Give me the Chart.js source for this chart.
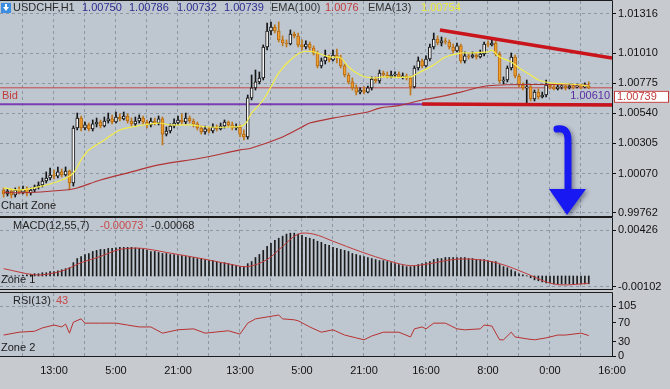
<!DOCTYPE html>
<html>
<head>
<meta charset="utf-8">
<script src="https://cdn.jsdelivr.net/npm/chart.js@4.4.0/dist/chart.umd.min.js"></script>
<style>
  html, body { margin: 0; padding: 0; }
  body { width: 670px; height: 389px; background: #c7cbd0; position: relative; overflow: hidden; }
  canvas { position: absolute; left: 0; }
  #main { top: 0; }
  #macd { top: 212px; }
  #rsi { top: 287px; }
</style>
</head>
<body>
<canvas id="main" width="670" height="222" style="width:670px;height:222px"></canvas>
<canvas id="macd" width="670" height="84" style="width:670px;height:84px"></canvas>
<canvas id="rsi" width="670" height="102" style="width:670px;height:102px"></canvas>
<script>
// USDCHF H1 candles, one per bar (index 0 = oldest)
const opens = [
  0.99941,0.99910,0.99933,0.99902,0.99941,0.99925,0.99949,0.99918,0.99941,0.99965,
  0.99980,1.00011,1.00035,1.00058,1.00050,1.00082,1.00058,1.00089,0.99996,1.00425,
  1.00503,1.00425,1.00449,1.00418,1.00457,1.00472,1.00441,1.00480,1.00496,1.00472,
  1.00511,1.00496,1.00519,1.00480,1.00457,1.00480,1.00503,1.00472,1.00449,1.00480,
  1.00464,1.00496,1.00378,1.00402,1.00441,1.00464,1.00488,1.00472,1.00503,1.00480,
  1.00457,1.00425,1.00394,1.00418,1.00402,1.00433,1.00418,1.00441,1.00472,1.00449,
  1.00425,1.00433,1.00378,1.00355,1.00660,1.00738,1.00785,1.00816,1.01058,1.01183,
  1.01214,1.01183,1.01113,1.01089,1.01081,1.01159,1.01144,1.01074,1.01058,1.01081,
  1.01050,1.01011,1.00910,1.00949,1.00980,1.00956,1.00995,1.00972,1.00910,1.00839,
  1.00785,1.00738,1.00706,1.00722,1.00706,1.00738,1.00808,1.00792,1.00855,1.00839,
  1.00824,1.00839,1.00847,1.00824,1.00831,1.00816,1.00746,1.00894,1.00949,1.00910,
  1.00964,1.01058,1.01120,1.01089,1.01105,1.01097,1.01058,1.01027,1.01066,1.00949,
  1.00988,1.00980,1.00995,1.00980,1.01003,1.01081,1.01074,1.01089,1.01003,1.00792,
  1.00800,1.00894,1.00980,1.00831,1.00761,1.00738,1.00746,1.00652,1.00706,1.00667,
  1.00683,1.00761,1.00746,1.00730,1.00746,1.00753,1.00738,1.00753,1.00746,1.00753,
  1.00746,1.00750
];
const highs = [
  0.99957,0.99949,0.99949,0.99957,0.99965,0.99972,0.99965,0.99957,0.99980,1.00004,
  1.00035,1.00082,1.00113,1.00097,1.00121,1.00105,1.00121,1.00097,1.00441,1.00542,
  1.00519,1.00472,1.00464,1.00488,1.00503,1.00488,1.00511,1.00542,1.00527,1.00550,
  1.00535,1.00550,1.00535,1.00503,1.00511,1.00527,1.00519,1.00488,1.00503,1.00503,
  1.00519,1.00511,1.00433,1.00457,1.00496,1.00519,1.00535,1.00542,1.00519,1.00496,
  1.00472,1.00441,1.00441,1.00433,1.00457,1.00449,1.00464,1.00488,1.00480,1.00472,
  1.00457,1.00449,1.00410,1.00683,1.00839,1.00878,1.00863,1.01074,1.01245,1.01253,
  1.01230,1.01253,1.01144,1.01113,1.01191,1.01175,1.01167,1.01113,1.01105,1.01097,
  1.01066,1.01027,1.00972,1.01034,1.00995,1.01034,1.01042,1.00995,1.00925,1.00855,
  1.00816,1.00761,1.00738,1.00746,1.00753,1.00824,1.00824,1.00878,1.00870,1.00863,
  1.00870,1.00863,1.00863,1.00855,1.00847,1.00831,1.00910,1.00980,1.00964,1.00988,
  1.01081,1.01167,1.01144,1.01136,1.01128,1.01113,1.01081,1.01089,1.01081,1.01019,
  1.01003,1.01019,1.01011,1.01034,1.01097,1.01105,1.01113,1.01105,1.01019,1.00824,
  1.00910,1.01011,1.00995,1.00847,1.00777,1.00800,1.00761,1.00722,1.00730,1.00706,
  1.00800,1.00769,1.00761,1.00761,1.00769,1.00761,1.00769,1.00769,1.00769,1.00769,
  1.00777,1.00786
];
const lows = [
  0.99886,0.99894,0.99879,0.99886,0.99910,0.99910,0.99894,0.99902,0.99925,0.99949,
  0.99965,0.99996,1.00019,1.00027,1.00035,1.00043,1.00050,0.99941,0.99972,1.00410,
  1.00402,1.00410,1.00402,1.00402,1.00433,1.00425,1.00433,1.00464,1.00457,1.00464,
  1.00480,1.00488,1.00464,1.00441,1.00441,1.00464,1.00457,1.00425,1.00433,1.00449,
  1.00449,1.00293,1.00363,1.00386,1.00425,1.00449,1.00457,1.00457,1.00464,1.00433,
  1.00410,1.00378,1.00378,1.00386,1.00386,1.00402,1.00410,1.00425,1.00433,1.00410,
  1.00410,1.00355,1.00332,1.00339,1.00644,1.00722,1.00769,1.00800,1.01034,1.01152,
  1.01167,1.01097,1.01066,1.01058,1.01074,1.01128,1.01058,1.01034,1.01042,1.01034,
  1.00995,1.00894,1.00894,1.00925,1.00941,1.00949,1.00933,1.00894,1.00824,1.00769,
  1.00722,1.00683,1.00691,1.00691,1.00699,1.00722,1.00777,1.00777,1.00824,1.00816,
  1.00816,1.00824,1.00816,1.00808,1.00800,1.00683,1.00738,1.00878,1.00894,1.00902,
  1.00949,1.01042,1.01074,1.01066,1.01081,1.01042,1.01011,1.01019,1.00933,1.00933,
  1.00964,1.00972,1.00964,1.00972,1.00988,1.01058,1.01066,1.00988,1.00777,1.00769,
  1.00785,1.00878,1.00816,1.00746,1.00722,1.00621,1.00636,1.00636,1.00652,1.00660,
  1.00667,1.00730,1.00722,1.00722,1.00730,1.00722,1.00730,1.00730,1.00738,1.00730,
  1.00738,1.00732
];
const closes = [
  0.99910,0.99933,0.99902,0.99941,0.99925,0.99949,0.99918,0.99941,0.99965,0.99980,
  1.00011,1.00035,1.00058,1.00050,1.00082,1.00058,1.00089,0.99996,1.00425,1.00503,
  1.00425,1.00449,1.00418,1.00457,1.00472,1.00441,1.00480,1.00496,1.00472,1.00511,
  1.00496,1.00519,1.00480,1.00457,1.00480,1.00503,1.00472,1.00449,1.00480,1.00464,
  1.00496,1.00378,1.00402,1.00441,1.00464,1.00488,1.00472,1.00503,1.00480,1.00457,
  1.00425,1.00394,1.00418,1.00402,1.00433,1.00418,1.00441,1.00472,1.00449,1.00425,
  1.00433,1.00378,1.00355,1.00660,1.00738,1.00785,1.00816,1.01058,1.01183,1.01214,
  1.01183,1.01113,1.01089,1.01081,1.01159,1.01144,1.01074,1.01058,1.01081,1.01050,
  1.01011,1.00910,1.00949,1.00980,1.00956,1.00995,1.00972,1.00910,1.00839,1.00785,
  1.00738,1.00706,1.00722,1.00706,1.00738,1.00808,1.00792,1.00855,1.00839,1.00824,
  1.00839,1.00847,1.00824,1.00831,1.00816,1.00746,1.00894,1.00949,1.00910,1.00964,
  1.01058,1.01120,1.01089,1.01105,1.01097,1.01058,1.01027,1.01066,1.00949,1.00988,
  1.00980,1.00995,1.00980,1.01003,1.01081,1.01074,1.01089,1.01003,1.00792,1.00800,
  1.00894,1.00980,1.00831,1.00761,1.00738,1.00746,1.00652,1.00706,1.00667,1.00683,
  1.00761,1.00746,1.00730,1.00746,1.00753,1.00738,1.00753,1.00746,1.00753,1.00746,
  1.00750,1.00739
];

// moving averages, read at a few bars
const ema13Bars = [0,4,9,15,18,20,22,26,30,33,40,43,48,53,58,62,64,67,69,71,74,77,80,84,87,89,92,95,98,105,107,111,114,118,120,125,126,128,131,133,136,138,141,146,151];
const ema13Vals = [0.99957,0.99941,0.99965,1.00019,1.00074,1.00176,1.00254,1.00332,1.00410,1.00433,
  1.00464,1.00449,1.00449,1.00433,1.00433,1.00449,1.00542,1.00644,1.00746,1.00855,
  1.00956,1.01019,1.01019,1.00980,1.00972,1.00902,1.00839,1.00816,1.00824,1.00824,
  1.00855,1.00918,1.00980,1.01011,1.01011,1.01019,1.01034,1.00980,1.00941,1.00894,
  1.00839,1.00800,1.00777,1.00769,1.00754];
const ema100Bars = [0,4,16,19,25,33,40,51,61,64,72,77,79,85,94,97,102,108,111,118,125,141,151];
const ema100Vals = [0.99925,0.99918,0.99941,0.99957,1.00019,1.00082,1.00137,1.00191,1.00254,1.00269,
  1.00355,1.00433,1.00464,1.00503,1.00550,1.00581,1.00600,1.00644,1.00660,1.00706,
  1.00755,1.00765,1.00760];

// price levels and drawn trend lines (bar, price)
const bidPrice = 1.00739;
const levelPrice = 1.00610;
const trendTopBars = [112.6, 157];
const trendTopPrices = [1.01191, 1.00972];
const trendLowBars = [108, 157];
const trendLowPrices = [1.00613, 1.00605];

// MACD(12,55,7)
const macdVals = [
  0.00002,-0.00003,-0.00003,0.00002,0.00002,0.00007,0.00011,0.00016,0.00021,0.00021,
  0.00030,0.00030,0.00040,0.00040,0.00049,0.00058,0.00068,0.00077,0.00124,0.00162,
  0.00181,0.00200,0.00209,0.00228,0.00238,0.00247,0.00247,0.00256,0.00256,0.00261,
  0.00266,0.00266,0.00266,0.00266,0.00261,0.00256,0.00247,0.00238,0.00228,0.00228,
  0.00219,0.00209,0.00209,0.00200,0.00200,0.00190,0.00190,0.00181,0.00181,0.00172,
  0.00162,0.00162,0.00153,0.00143,0.00143,0.00134,0.00124,0.00124,0.00115,0.00106,
  0.00096,0.00087,0.00087,0.00115,0.00134,0.00172,0.00200,0.00238,0.00275,0.00304,
  0.00332,0.00351,0.00370,0.00389,0.00398,0.00398,0.00389,0.00379,0.00360,0.00351,
  0.00341,0.00323,0.00313,0.00294,0.00285,0.00266,0.00256,0.00247,0.00238,0.00228,
  0.00209,0.00200,0.00190,0.00181,0.00172,0.00162,0.00153,0.00143,0.00143,0.00134,
  0.00124,0.00115,0.00106,0.00096,0.00087,0.00087,0.00096,0.00106,0.00115,0.00124,
  0.00134,0.00153,0.00162,0.00162,0.00172,0.00172,0.00172,0.00172,0.00172,0.00172,
  0.00162,0.00162,0.00153,0.00153,0.00153,0.00143,0.00134,0.00134,0.00106,0.00087,
  0.00077,0.00058,0.00040,0.00021,0.00011,0.00002,-0.00017,-0.00036,-0.00045,-0.00055,
  -0.00064,-0.00064,-0.00074,-0.00074,-0.00074,-0.00074,-0.00074,-0.00074,-0.00074,-0.00074,
  -0.00073,-0.00073
];
const signalBars = [0,8,12,16,20,25,29,32,36,42,51,59,63,68,72,76,80,85,92,100,105,110,116,122,128,135,140,144,151];
const signalVals = [0.00068,0.00011,0.00021,0.00058,0.00124,0.00181,0.00238,0.00256,0.00256,0.00219,
  0.00162,0.00106,0.00087,0.00153,0.00275,0.00389,0.00389,0.00323,0.00228,0.00134,
  0.00096,0.00115,0.00153,0.00153,0.00115,0.00021,-0.00055,-0.00083,-0.00068];

// RSI(13)
const rsiBars = [0,4,8,10,13,15,16,17,18,20,21,25,29,32,35,38,41,45,49,52,58,61,63,65,68,71,72,75,76,79,82,85,88,91,93,95,98,102,105,106,108,109,111,114,117,119,123,124,126,128,129,131,132,135,137,140,143,145,149,151];
const rsiVals = [44,50,52,59,65,61,67,48,71,78,69,69,69,65,61,61,48,55,57,48,
  53,46,69,78,82,86,78,76,74,61,50,55,44,38,34,42,50,50,40,57,
  61,57,69,69,57,55,57,65,63,34,34,50,40,36,34,38,44,44,48,43];

// axes
const mainTicks = [1.01316, 1.01010, 1.00775, 1.00540, 1.00305, 1.00070, 0.99762];
const macdTicks = [0.00426, -0.00102];
const rsiTicks = [105, 70, 30, 0];
const gridBars = [5,13,21,29,37,45,53,61,69,77,85,93,101,109,117,125,133,141,149,157];
const timeLabels = ['13:00','5:00','21:00','13:00','5:00','21:00','16:00','8:00','0:00','16:00'];

const X_MIN = -0.93, X_MAX = 157;
const GRID = '#8d97a3';
const PANEL = '#bec6d0';
const FONT = '"Liberation Sans", Arial, sans-serif';

Chart.defaults.font.family = FONT;
Chart.defaults.font.size = 11;
Chart.defaults.color = '#111';
Chart.defaults.animation = false;
Chart.defaults.events = [];
Chart.defaults.plugins.legend.display = false;
Chart.defaults.plugins.tooltip.enabled = false;

const last = closes.length - 1;
const barIdx = closes.map((c, i) => i);
const isUp = barIdx.map(i => closes[i] >= opens[i]);
const pts = (xs, ys) => xs.map((x, k) => ({ x: x, y: ys[k] }));

function xAxis(showLabels) {
  return {
    type: 'linear', min: X_MIN, max: X_MAX, offset: false,
    afterBuildTicks: s => { s.ticks = gridBars.map(v => ({ value: v })); },
    afterFit: s => { s.height = showLabels ? 33 : 0; s.paddingLeft = 0; s.paddingRight = 0; },
    grid: { color: GRID, drawTicks: false, offset: false },
    border: { display: false, dash: [3, 3] },
    ticks: {
      display: showLabels, autoSkip: false, maxRotation: 0, padding: 8, color: '#111',
      callback: v => { const k = (v - 13) / 16; return Number.isInteger(k) && k >= 0 ? timeLabels[k] : ''; }
    }
  };
}

function yAxis(min, max, ticks, fmt, gridColor) {
  return {
    position: 'right', min: min, max: max,
    afterBuildTicks: s => { s.ticks = ticks.map(v => ({ value: v })); },
    afterFit: s => { s.width = 58; s.paddingTop = 0; s.paddingBottom = 0; },
    grid: { color: gridColor || GRID, tickColor: '#111', tickLength: 4, tickBorderDash: [] },
    border: { display: true, color: '#111', dash: [3, 3] },
    ticks: { padding: 2, color: '#111', autoSkip: false, callback: fmt }
  };
}

function text(ctx, s, x, y, color, align) {
  ctx.fillStyle = color;
  ctx.textAlign = align || 'left';
  ctx.textBaseline = 'middle';
  ctx.fillText(s, x, y);
}

function panelPlugin(drawExtra) {
  return {
    id: 'panel',
    beforeDraw(chart) {
      const { ctx, chartArea: a } = chart;
      ctx.save();
      ctx.fillStyle = PANEL;
      ctx.fillRect(a.left, a.top, a.right - a.left, a.bottom - a.top);
      ctx.restore();
    },
    afterDraw(chart) {
      const { ctx, chartArea: a } = chart;
      ctx.save();
      ctx.strokeStyle = '#1c1c1c';
      ctx.lineWidth = 1;
      ctx.beginPath();
      ctx.moveTo(0, a.top - 0.5);
      ctx.lineTo(a.right + 0.5, a.top - 0.5);
      ctx.lineTo(a.right + 0.5, a.bottom + 0.5);
      ctx.lineTo(0, a.bottom + 0.5);
      ctx.stroke();
      ctx.font = '11px ' + FONT;
      drawExtra(chart, ctx);
      ctx.restore();
    }
  };
}

// ---- main price chart
new Chart(document.getElementById('main'), {
  type: 'bar',
  data: {
    datasets: [
      { type: 'line', data: pts(trendTopBars, trendTopPrices), borderColor: '#c8141a', borderWidth: 3.5, pointRadius: 0, order: 0 },
      { type: 'line', data: pts(trendLowBars, trendLowPrices), borderColor: '#c8141a', borderWidth: 3.5, pointRadius: 0, order: 0 },
      { type: 'line', data: pts(ema13Bars, ema13Vals), borderColor: '#f4ee48', borderWidth: 1.2, pointRadius: 0, tension: 0.35, order: 1 },
      { type: 'line', data: pts(ema100Bars, ema100Vals), borderColor: '#b03434', borderWidth: 1.2, pointRadius: 0, tension: 0.35, order: 1 },
      {
        type: 'bar', data: barIdx.map(i => ({ x: i, y: [opens[i], closes[i]] })),
        backgroundColor: barIdx.map(i => isUp[i] ? '#f6f6f6' : '#f0a030'),
        borderColor: barIdx.map(i => isUp[i] ? '#151515' : '#b46a12'),
        borderWidth: 1, borderSkipped: false, barThickness: 3, minBarLength: 1, grouped: false, order: 2
      },
      {
        type: 'bar', data: barIdx.map(i => ({ x: i, y: [lows[i], highs[i]] })),
        backgroundColor: barIdx.map(i => isUp[i] ? '#151515' : '#c07818'),
        barThickness: 1, grouped: false, order: 3
      },
      { type: 'line', data: pts([X_MIN, X_MAX], [bidPrice, bidPrice]), borderColor: '#c44848', borderWidth: 1, pointRadius: 0, order: 4 },
      { type: 'line', data: pts([X_MIN, X_MAX], [levelPrice, levelPrice]), borderColor: '#7a3cb4', borderWidth: 2, pointRadius: 0, order: 4 }
    ]
  },
  options: {
    responsive: false,
    layout: { padding: { top: 1, bottom: 6, left: 0, right: 0 } },
    scales: {
      x: xAxis(false),
      y: yAxis(0.99738, 1.01417, mainTicks, v => v.toFixed(5))
    }
  },
  plugins: [panelPlugin((chart, ctx) => {
    const y = chart.scales.y;
    // symbol icon
    ctx.fillStyle = '#3b8ee2';
    ctx.fillRect(1, 3, 10, 10);
    ctx.fillStyle = '#ffffff';
    ctx.beginPath(); ctx.moveTo(3, 7); ctx.lineTo(9, 7); ctx.lineTo(6, 11); ctx.closePath(); ctx.fill();
    ctx.fillRect(5, 4, 2, 3);
    text(ctx, 'USDCHF,H1', 13, 8, '#2a2a2a');
    text(ctx, opens[last].toFixed(5), 82, 8, '#2c2c8e');
    text(ctx, highs[last].toFixed(5), 129, 8, '#2c2c8e');
    text(ctx, lows[last].toFixed(5), 177, 8, '#2c2c8e');
    text(ctx, closes[last].toFixed(5), 224, 8, '#2c2c8e');
    text(ctx, 'EMA(100)', 271, 8, '#333333');
    text(ctx, ema100Vals[ema100Vals.length - 1].toFixed(4), 325, 8, '#c23c3c');
    text(ctx, 'EMA(13)', 368, 8, '#333333');
    text(ctx, ema13Vals[ema13Vals.length - 1].toFixed(5), 421, 8, '#ecea3c');
    text(ctx, 'Chart Zone', 1, 206, '#1a1a1a');
    const by = y.getPixelForValue(bidPrice);
    text(ctx, 'Bid', 2, by + 8, '#c23c3c');
    text(ctx, levelPrice.toFixed(5), 610, y.getPixelForValue(levelPrice) - 8, '#5a2ca4', 'right');
    // bid price box on the axis
    ctx.fillStyle = '#ffffff';
    ctx.fillRect(614, by + 3, 55, 12);
    ctx.strokeStyle = '#c23c3c';
    ctx.strokeRect(614.5, by + 3.5, 54, 11);
    text(ctx, bidPrice.toFixed(5), 617, by + 9.5, '#c23c3c');
    // blue arrow
    ctx.shadowColor = 'rgba(30,30,60,0.45)';
    ctx.shadowBlur = 4; ctx.shadowOffsetX = 2; ctx.shadowOffsetY = 2;
    ctx.strokeStyle = '#1818f2'; ctx.lineWidth = 7; ctx.lineCap = 'round';
    ctx.beginPath();
    ctx.moveTo(557, 129);
    ctx.quadraticCurveTo(568, 127, 568, 140);
    ctx.lineTo(568, 192);
    ctx.stroke();
    ctx.fillStyle = '#1818f2';
    ctx.beginPath(); ctx.moveTo(549, 189); ctx.lineTo(586, 189); ctx.lineTo(567, 215); ctx.closePath(); ctx.fill();
  })]
});

// ---- MACD panel
new Chart(document.getElementById('macd'), {
  type: 'bar',
  data: {
    datasets: [
      { type: 'line', data: pts(signalBars, signalVals), borderColor: '#c23a3a', borderWidth: 1, pointRadius: 0, tension: 0.35, order: 0 },
      { type: 'bar', data: barIdx.map(i => ({ x: i, y: macdVals[i] })), backgroundColor: '#1c1c1c', barThickness: 1, order: 1 }
    ]
  },
  options: {
    responsive: false,
    layout: { padding: { top: 6, bottom: 7, left: 0, right: 0 } },
    scales: {
      x: xAxis(false),
      y: yAxis(-0.00121, 0.00539, macdTicks, v => v.toFixed(5))
    }
  },
  plugins: [panelPlugin((chart, ctx) => {
    text(ctx, 'MACD(12,55,7)', 13, 14, '#222222');
    text(ctx, macdVals[last].toFixed(5), 100, 14, '#c84848');
    text(ctx, signalVals[signalVals.length - 1].toFixed(5), 151, 14, '#222222');
    text(ctx, 'Zone 1', 1, 68, '#1a1a1a');
  })]
});

// ---- RSI panel
new Chart(document.getElementById('rsi'), {
  type: 'line',
  data: {
    datasets: [
      { data: pts(rsiBars, rsiVals), borderColor: '#b83232', borderWidth: 1, pointRadius: 0 }
    ]
  },
  options: {
    responsive: false,
    layout: { padding: { top: 6, bottom: 0, left: 0, right: 0 } },
    scales: {
      x: xAxis(true),
      y: yAxis(0, 132.3, rsiTicks, v => String(v), c => (c.tick && c.tick.value === 105) ? GRID : 'rgba(0,0,0,0)')
    }
  },
  plugins: [panelPlugin((chart, ctx) => {
    text(ctx, 'RSI(13)', 13, 14, '#222222');
    text(ctx, String(rsiVals[rsiVals.length - 1]), 56, 14, '#c84848');
    text(ctx, 'Zone 2', 1, 61, '#1a1a1a');
  })]
});
</script>
</body>
</html>
